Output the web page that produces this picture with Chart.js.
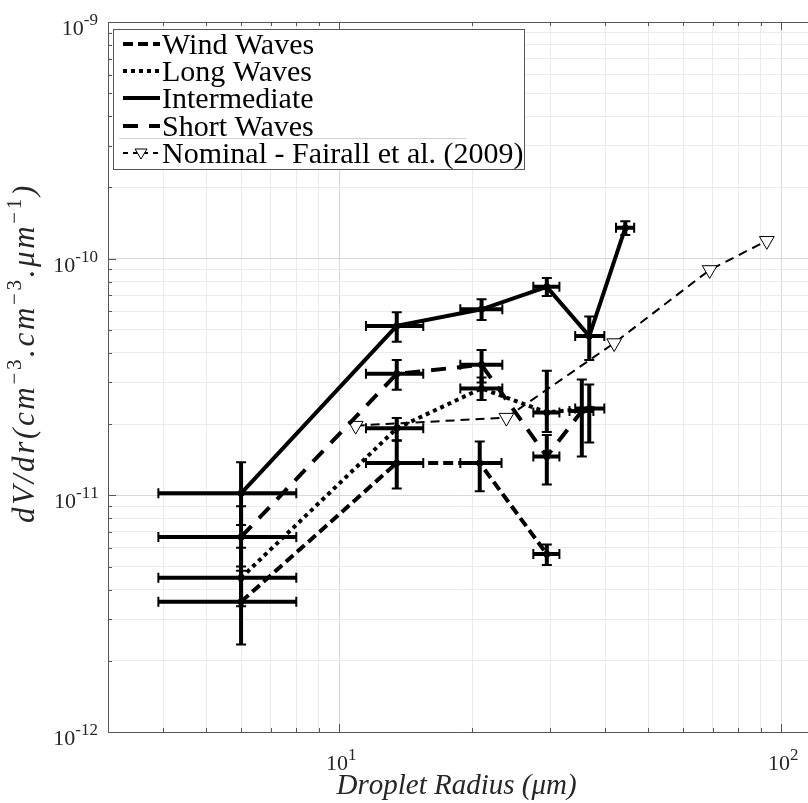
<!DOCTYPE html>
<html>
<head>
<meta charset="utf-8">
<script src="https://cdn.jsdelivr.net/npm/chart.js@4.4.1/dist/chart.umd.min.js"></script>
<style>
  html, body { margin: 0; padding: 0; background: #fff; }
  canvas { display: block; }
</style>
</head>
<body>
<canvas id="graf" width="808" height="803"></canvas>
<script>
// Wind waves
const windX = [6, 13.5, 20.8, 29.5];
const windY = [3.55e-12, 1.37e-11, 1.37e-11, 5.65e-12];
const windXLow = [3.9, 11.5, 18.8, 27.5];
const windXHigh = [8, 15.5, 23.3, 31.5];
const windYLow = [2.34e-12, 1.07e-11, 1.04e-11, 5.08e-12];
const windYHigh = [4.8e-12, 1.70e-11, 1.69e-11, 6.2e-12];

// Long waves
const longX = [6, 13.5, 21, 29.5, 36.8];
const longY = [4.48e-12, 1.92e-11, 2.83e-11, 2.24e-11, 2.33e-11];
const longXLow = [3.9, 11.5, 18.8, 27.5, 34.2];
const longXHigh = [8, 15.5, 23.4, 31.5, 39.8];
const longYLow = [3.4e-12, 1.71e-11, 2.53e-11, 1.85e-11, 1.67e-11];
const longYHigh = [6.0e-12, 2.12e-11, 3.15e-11, 3.36e-11, 2.94e-11];

// Intermediate
const interX = [6, 13.5, 21, 29.5, 36.8, 44.4];
const interY = [1.02e-11, 5.2e-11, 6.11e-11, 7.6e-11, 4.71e-11, 1.35e-10];
const interXLow = [3.9, 11.5, 18.8, 27.5, 34.2, 42.3];
const interXHigh = [8, 15.5, 23.4, 31.5, 39.8, 46.5];
const interYLow = [7.5e-12, 4.46e-11, 5.51e-11, 6.95e-11, 3.73e-11, 1.26e-10];
const interYHigh = [1.38e-11, 5.94e-11, 6.73e-11, 8.28e-11, 5.69e-11, 1.44e-10];

// Short waves
const shortX = [6, 13.5, 21, 29.5, 35.4];
const shortY = [6.67e-12, 3.26e-11, 3.56e-11, 1.46e-11, 2.27e-11];
const shortXLow = [3.9, 11.5, 18.8, 27.5, 33.2];
const shortXHigh = [8, 15.5, 23.4, 31.5, 37.6];
const shortYLow = [5.0e-12, 2.79e-11, 3.0e-11, 1.11e-11, 1.46e-11];
const shortYHigh = [9.0e-12, 3.73e-11, 4.11e-11, 1.8e-11, 3.09e-11];

// Nominal - Fairall et al. (2009)
const nominalX = [10.9, 23.9, 41.9, 68.9, 92.8];
const nominalY = [1.97e-11, 2.13e-11, 4.4e-11, 8.96e-11, 1.19e-10];

// Axis ranges and tick labels
const xRange = [3, 115];
const yRange = [1e-12, 1e-9];
const xTickExp = [1, 2];
const yTickExp = [-12, -11, -10, -9];

const legendLabels = ['Wind Waves', 'Long Waves', 'Intermediate', 'Short Waves', 'Nominal - Fairall et al. (2009)'];

const SERIF = '"Liberation Serif", "DejaVu Serif", serif';

function toPoints(xs, ys) {
    return xs.map((x, i) => ({ x: x, y: ys[i] }));
}

function errSeries(label, xs, ys, xl, xh, yl, yh, dash) {
    return {
        label: label,
        data: toPoints(xs, ys),
        showLine: true,
        borderColor: '#000',
        backgroundColor: '#000',
        borderWidth: 4,
        borderDash: dash,
        pointRadius: 3.5,
        pointBorderWidth: 0,
        pointBackgroundColor: '#000',
        errX: [xl, xh],
        errY: [yl, yh]
    };
}

// all 1..9 x 10^n values inside the range
function logTicks(min, max) {
    const out = [];
    for (let e = Math.floor(Math.log10(min)); e <= Math.ceil(Math.log10(max)); e++) {
        for (let m = 1; m < 10; m++) {
            const v = m * Math.pow(10, e);
            if (v >= min * 0.9999 && v <= max * 1.0001) out.push({ value: v });
        }
    }
    return out;
}

function isMajor(v) {
    const l = Math.log10(v);
    return Math.abs(l - Math.round(l)) < 1e-6;
}

function gridColor(ctx) {
    if (!ctx.tick) return '#e6e6e6';
    return isMajor(ctx.tick.value) ? '#d8d8d8' : '#ebebeb';
}

// text with superscripts: parts = [[text, isSup], ...]
function richWidth(ctx, parts, font, supFont, spacing) {
    let w = 0;
    parts.forEach(p => {
        ctx.font = p[1] ? supFont : font;
        w += ctx.measureText(p[0]).width + (spacing || 0) * p[0].length;
    });
    return w;
}

function drawRich(ctx, parts, x, y, font, supFont, raise, spacing) {
    let cx = x;
    const sp = spacing || 0;
    parts.forEach(p => {
        ctx.font = p[1] ? supFont : font;
        for (const ch of p[0]) {
            ctx.fillText(ch, cx, p[1] ? y - raise : y);
            cx += ctx.measureText(ch).width + sp;
        }
    });
}

const overlay = {
    id: 'overlay',
    afterDatasetsDraw(chart) {
        const ctx = chart.ctx;
        const xs = chart.scales.x, ys = chart.scales.y;
        ctx.save();
        ctx.strokeStyle = '#000';
        ctx.setLineDash([]);
        chart.data.datasets.forEach(ds => {
            if (!ds.errX) return;
            ds.data.forEach((p, i) => {
                const px = xs.getPixelForValue(p.x);
                const py = ys.getPixelForValue(p.y);
                const x1 = xs.getPixelForValue(ds.errX[0][i]);
                const x2 = xs.getPixelForValue(ds.errX[1][i]);
                const y1 = ys.getPixelForValue(ds.errY[0][i]);
                const y2 = ys.getPixelForValue(ds.errY[1][i]);
                ctx.lineWidth = 4;
                ctx.beginPath();
                ctx.moveTo(x1, py); ctx.lineTo(x2, py);
                ctx.moveTo(px, y1); ctx.lineTo(px, y2);
                ctx.stroke();
                ctx.lineWidth = 2;
                ctx.beginPath();
                ctx.moveTo(x1, py - 5); ctx.lineTo(x1, py + 5);
                ctx.moveTo(x2, py - 5); ctx.lineTo(x2, py + 5);
                ctx.moveTo(px - 5, y1); ctx.lineTo(px + 5, y1);
                ctx.moveTo(px - 5, y2); ctx.lineTo(px + 5, y2);
                ctx.stroke();
            });
        });
        ctx.restore();
    },
    afterDraw(chart) {
        const ctx = chart.ctx;
        const area = chart.chartArea;
        const xs = chart.scales.x, ys = chart.scales.y;
        ctx.save();

        // top axis line and inward ticks
        ctx.strokeStyle = '#555';
        ctx.lineWidth = 1;
        ctx.setLineDash([]);
        ctx.beginPath();
        ctx.moveTo(area.left, area.top + 0.5);
        ctx.lineTo(area.right, area.top + 0.5);
        xs.ticks.forEach(t => {
            const px = Math.round(xs.getPixelForValue(t.value)) + 0.5;
            const len = isMajor(t.value) ? 8 : 4;
            ctx.moveTo(px, area.bottom); ctx.lineTo(px, area.bottom - len);
            ctx.moveTo(px, area.top); ctx.lineTo(px, area.top + len);
        });
        ys.ticks.forEach(t => {
            const py = Math.round(ys.getPixelForValue(t.value)) + 0.5;
            const len = isMajor(t.value) ? 8 : 4;
            ctx.moveTo(area.left, py); ctx.lineTo(area.left + len, py);
        });
        ctx.stroke();

        // tick labels
        ctx.fillStyle = '#262626';
        ctx.textBaseline = 'alphabetic';
        ctx.textAlign = 'left';
        const tickFont = '22px ' + SERIF;
        const supFont = '17px ' + SERIF;
        yTickExp.forEach(e => {
            const py = ys.getPixelForValue(Math.pow(10, e));
            const parts = [['10', false], [String(e), true]];
            const w = richWidth(ctx, parts, tickFont, supFont);
            drawRich(ctx, parts, 98 - w, py + 13, tickFont, supFont, 10);
        });
        xTickExp.forEach(e => {
            const px = xs.getPixelForValue(Math.pow(10, e));
            const parts = [['10', false], [String(e), true]];
            const w = richWidth(ctx, parts, tickFont, supFont);
            drawRich(ctx, parts, px - w / 2 + 2, 770, tickFont, supFont, 10);
        });

        // axis titles
        const titleFont = 'italic 29px ' + SERIF;
        const titleSup = '21px ' + SERIF;
        const xParts = [['Droplet Radius (\u03bcm)', false]];
        const xw = richWidth(ctx, xParts, titleFont, titleSup);
        drawRich(ctx, xParts, (area.left + area.right) / 2 - xw / 2 - 2, 794, titleFont, titleSup, 0);

        // y title is set wider, like the LaTeX one in the original
        const yParts = [['dV/dr(cm', false], ['\u22123', true], ['.cm', false], ['\u22123', true],
                        ['.\u03bcm', false], ['\u22121', true], [')', false]];
        const yFont = 'italic 31px ' + SERIF;
        const nChars = yParts.reduce((n, p) => n + p[0].length, 0);
        const natural = richWidth(ctx, yParts, yFont, titleSup);
        const spacing = (340 - natural) / nChars;
        const yw = richWidth(ctx, yParts, yFont, titleSup, spacing);
        ctx.save();
        ctx.translate(34, 353);
        ctx.rotate(-Math.PI / 2);
        drawRich(ctx, yParts, -yw / 2, 0, yFont, titleSup, 13, spacing);
        ctx.restore();

        // legend box
        const bx = 113, by = 29, bw = 411, bh = 140;
        ctx.fillStyle = '#fff';
        ctx.fillRect(bx, by, bw, bh);
        ctx.strokeStyle = '#555';
        ctx.lineWidth = 1;
        ctx.strokeRect(bx + 0.5, by + 0.5, bw, bh);

        const rows = [44, 71, 98, 126, 153];
        chart.data.datasets.forEach((ds, r) => {
            const y = rows[r];
            ctx.strokeStyle = '#000';
            ctx.lineWidth = ds.borderWidth;
            ctx.setLineDash(ds.pointStyle === 'triangle' ? [5, 5] : (ds.borderDash || []));
            ctx.beginPath();
            ctx.moveTo(123, y); ctx.lineTo(160, y);
            ctx.stroke();
            ctx.setLineDash([]);
            if (ds.pointStyle === 'triangle') {
                ctx.fillStyle = '#fff';
                ctx.lineWidth = 1;
                ctx.beginPath();
                ctx.moveTo(135, y - 4); ctx.lineTo(147, y - 4); ctx.lineTo(141, y + 6);
                ctx.closePath();
                ctx.fill(); ctx.stroke();
            }
            ctx.fillStyle = '#000';
            ctx.font = '30px ' + SERIF;
            ctx.fillText(legendLabels[r], 162, y + 10);
        });
        // thin separator line inside the legend
        ctx.strokeStyle = '#d0d0d0';
        ctx.lineWidth = 1;
        ctx.beginPath();
        ctx.moveTo(119, 138.5); ctx.lineTo(466, 138.5);
        ctx.stroke();

        ctx.restore();
    }
};

document.addEventListener('DOMContentLoaded', function() {
    const ctx = document.getElementById('graf').getContext('2d');

    const datasets = [
        errSeries(legendLabels[0], windX, windY, windXLow, windXHigh, windYLow, windYHigh, [10, 5]),
        errSeries(legendLabels[1], longX, longY, longXLow, longXHigh, longYLow, longYHigh, [4, 4]),
        errSeries(legendLabels[2], interX, interY, interXLow, interXHigh, interYLow, interYHigh, []),
        errSeries(legendLabels[3], shortX, shortY, shortXLow, shortXHigh, shortYLow, shortYHigh, [15, 11]),
        {
            label: legendLabels[4],
            data: toPoints(nominalX, nominalY),
            showLine: true,
            borderColor: '#000',
            borderWidth: 2,
            borderDash: [9, 6],
            pointStyle: 'triangle',
            rotation: 180,
            pointRadius: 8.5,
            pointBorderWidth: 1,
            pointBorderColor: '#000',
            pointBackgroundColor: '#fff'
        }
    ];

    const axisCommon = {
        type: 'logarithmic',
        ticks: { display: false },
        grid: { color: gridColor, lineWidth: 1, drawTicks: false },
        border: { display: true, color: '#555', width: 1 },
        afterBuildTicks: function(scale) {
            scale.ticks = logTicks(scale.min, scale.max);
        }
    };

    new Chart(ctx, {
        type: 'scatter',
        data: { datasets: datasets },
        options: {
            responsive: false,
            animation: false,
            layout: { autoPadding: false, padding: { left: 108, top: 22, right: 0, bottom: 71 } },
            plugins: {
                legend: { display: false },
                tooltip: { enabled: false }
            },
            scales: {
                x: Object.assign({}, axisCommon, { min: xRange[0], max: xRange[1] }),
                y: Object.assign({}, axisCommon, { min: yRange[0], max: yRange[1] })
            }
        },
        plugins: [overlay]
    });
});
</script>
</body>
</html>
